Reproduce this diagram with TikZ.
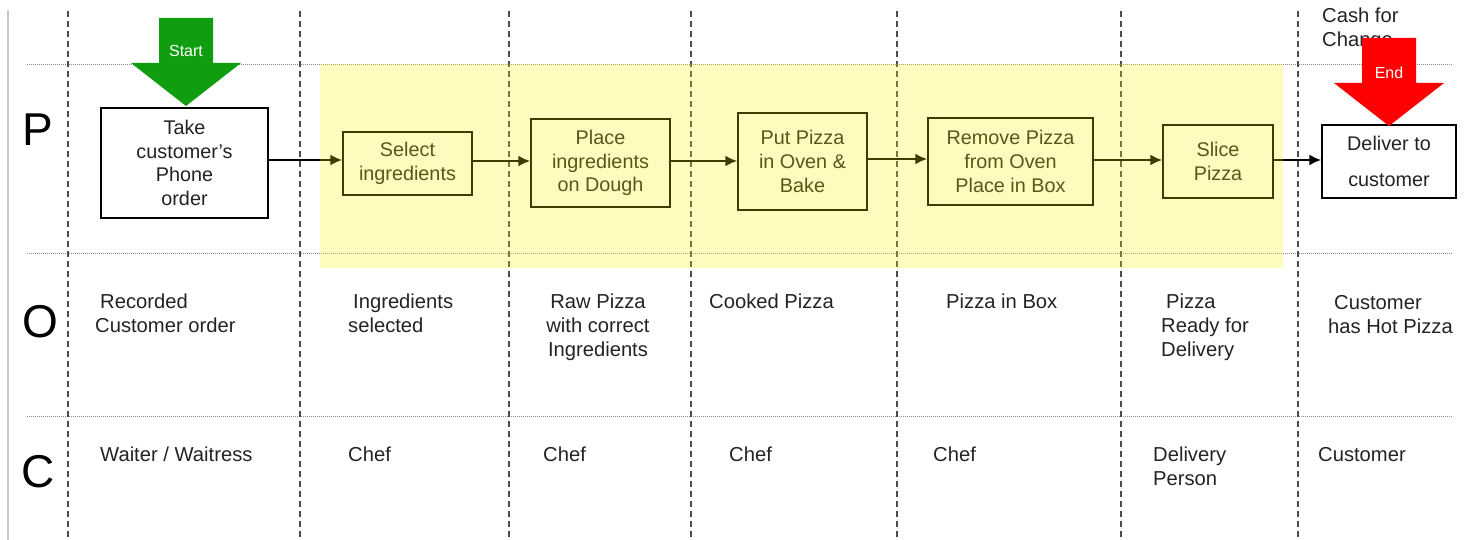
\documentclass[tikz,border=0pt]{standalone}
\usepackage{fontspec}
\setmainfont{Liberation Sans}
\usetikzlibrary{arrows.meta}
\definecolor{txt}{RGB}{35,35,35}
\definecolor{startgreen}{RGB}{16,158,16}
\tikzset{
  vline/.style={draw=black!70, line width=1.3pt, dash pattern=on 6pt off 4pt},
  hline/.style={draw=black!45, line width=0.8pt, dash pattern=on 1pt off 1pt},
  stepbox/.style={draw=black, line width=1.3pt, fill=white, align=center, inner sep=0pt,
    text=txt, font=\fontsize{19.8}{23.8}\selectfont},
  lbl/.style={anchor=north west, align=left, inner sep=0pt, text=txt,
    font=\fontsize{20.2}{24}\selectfont},
  clbl/.style={anchor=north, align=center, inner sep=0pt, text=txt,
    font=\fontsize{20.2}{24}\selectfont},
  row/.style={inner sep=0pt, font=\fontsize{46}{46}\selectfont},
  flow/.style={draw=black, line width=2.6pt, -{Latex[length=12pt,width=11pt]}},
  tag/.style={text=white, inner sep=0pt, font=\fontsize{16}{16}\selectfont}
}
\begin{document}
\begin{tikzpicture}[x=1pt,y=-1pt]
\useasboundingbox (0,0) rectangle (1468,540);
% left margin line
\draw[black!22, line width=2pt] (7.5,10) -- (7.5,540);
% grid
\foreach \yy in {64,253,416} \draw[hline] (27,\yy) -- (1452,\yy);
\foreach \xx in {68,300,509,691,897,1121,1298} \draw[vline] (\xx,11) -- (\xx,540);
% row letters
\node[row] (P) at (38,130) {P};
\node[row] (O) at (40,322) {O};
\node[row] (C) at (38,472) {C};
% cash for change
\node[lbl] (cash) at (1322,8) {Cash for\\Change};
% steps
\node[stepbox, minimum width=167pt, minimum height=110pt] (take) at (184.5,163) {Take\\customer’s\\Phone\\order};
\node[stepbox, minimum width=129pt, minimum height=63pt] (select) at (407.5,163.5) {Select\\ingredients};
\node[stepbox, minimum width=139pt, minimum height=88pt] (place) at (600.5,163) {Place\\ingredients\\on Dough};
\node[stepbox, minimum width=129pt, minimum height=97pt] (bake) at (802.5,161.5) {Put Pizza\\in Oven \&\\Bake};
\node[stepbox, minimum width=165pt, minimum height=87pt] (remove) at (1010.5,161.5) {Remove Pizza\\from Oven\\Place in Box};
\node[stepbox, minimum width=110pt, minimum height=73pt] (slice) at (1218,161.5) {Slice\\Pizza};
\node[stepbox, minimum width=134pt, minimum height=73pt, font=\fontsize{19.8}{36}\selectfont] (deliver) at (1389,161.5) {Deliver to\\customer};
% flows
\draw[flow] (take.east |- 0,160) -- (select.west |- 0,160);
\draw[flow] (select.east |- 0,161) -- (place.west |- 0,161);
\draw[flow] (place.east |- 0,161) -- (bake.west |- 0,161);
\draw[flow] (bake.east |- 0,159) -- (remove.west |- 0,159);
\draw[flow] (remove.east |- 0,160) -- (slice.west |- 0,160);
\draw[flow] (slice.east |- 0,160) -- (deliver.west |- 0,160);
% outputs
\node[lbl] (o1) at (95,294) {\hspace*{5pt}Recorded\\Customer order};
\node[lbl] (o2) at (348,294) {\hspace*{5pt}Ingredients\\selected};
\node[clbl] (o3) at (598,294) {Raw Pizza\\with correct\\Ingredients};
\node[lbl] (o4) at (709,294) {Cooked Pizza};
\node[lbl] (o5) at (946,294) {Pizza in Box};
\node[lbl] (o6) at (1161,294) {\hspace*{5pt}Pizza\\Ready for\\Delivery};
\node[lbl] (o7) at (1328,295) {\hspace*{6pt}Customer\\has Hot Pizza};
% customers
\node[lbl] (c1) at (100,447) {Waiter / Waitress};
\node[lbl] (c2) at (348,447) {Chef};
\node[lbl] (c3) at (543,447) {Chef};
\node[lbl] (c4) at (729,447) {Chef};
\node[lbl] (c5) at (933,447) {Chef};
\node[lbl] (c6) at (1153,447) {Delivery\\Person};
\node[lbl] (c7) at (1318,447) {Customer};
% yellow process overlay
\fill[yellow, opacity=0.25] (320,64) rectangle (1283,268);
% start / end arrows
\fill[startgreen] (159,18) -- (213,18) -- (213,63) -- (241,63) -- (186,106) -- (131,63) -- (159,63) -- cycle;
\node[tag] (start) at (186,51) {Start};
\fill[red] (1362,38) -- (1416,38) -- (1416,83) -- (1444,83) -- (1389,126) -- (1334,83) -- (1362,83) -- cycle;
\node[tag] (end) at (1389,73) {End};
\end{tikzpicture}
\end{document}
